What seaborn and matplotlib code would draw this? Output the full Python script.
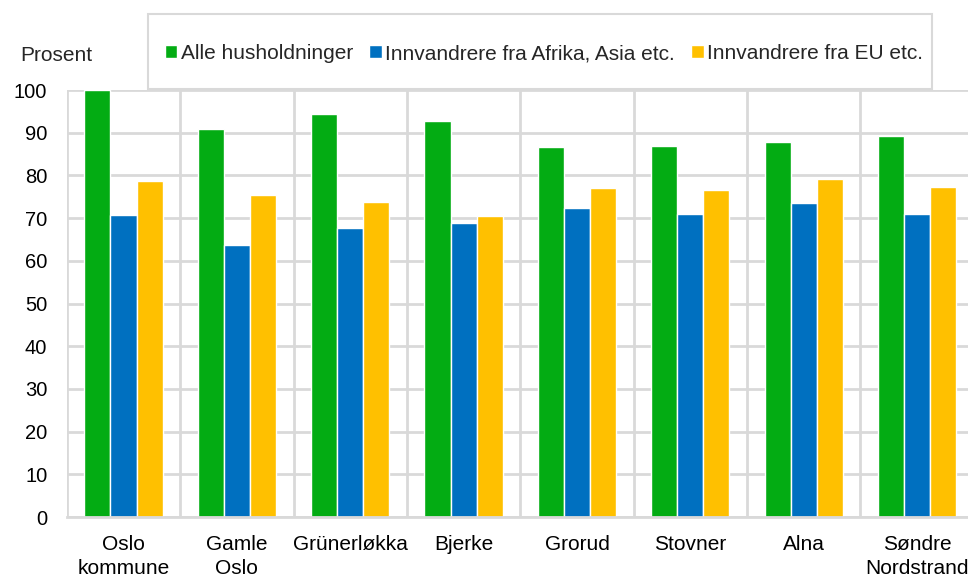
import numpy as np
import pandas as pd
import matplotlib
matplotlib.use("Agg")
import matplotlib.pyplot as plt
from matplotlib.patches import Rectangle
import seaborn as sns

# Data
bydeler = ["Oslo\nkommune", "Gamle\nOslo", "Grünerløkka", "Bjerke", "Grorud",
           "Stovner", "Alna", "Søndre\nNordstrand"]
grupper = ["Alle husholdninger", "Innvandrere fra Afrika, Asia etc.",
           "Innvandrere fra EU etc."]
alle = [100.0, 90.9, 94.4, 92.8, 86.6, 86.8, 87.8, 89.2]
afrika_asia = [70.8, 63.7, 67.7, 68.8, 72.4, 70.9, 73.5, 71.0]
eu = [78.7, 75.4, 73.8, 70.5, 77.0, 76.7, 79.1, 77.3]
farger = ["#03AC13", "#0070C0", "#FFC000"]

df = pd.DataFrame({
    "Bydel": bydeler * 3,
    "Gruppe": [g for g in grupper for _ in bydeler],
    "Prosent": alle + afrika_asia + eu,
})

sns.set_style("white")
plt.rcParams["font.family"] = ["Liberation Sans", "DejaVu Sans"]

fig = plt.figure(figsize=(9.68, 5.76), dpi=100)
ax = fig.add_axes([0.069, 0.1024, 0.937, 0.7413])

sns.barplot(data=df, x="Bydel", y="Prosent", hue="Gruppe", palette=farger,
            saturation=1, width=0.69, edgecolor="white", linewidth=1, ax=ax)

grid_col = "#d9d9d9"
ax.set_xlim(-0.5, len(bydeler) - 0.5)
ax.set_ylim(0, 100)
ax.set_yticks(np.arange(0, 101, 10))
ax.set_xticks(np.arange(-0.5, len(bydeler), 1), minor=True)
ax.set_axisbelow(True)
ax.grid(axis="y", which="major", color=grid_col, linewidth=2)
ax.grid(axis="x", which="minor", color=grid_col, linewidth=2)
ax.grid(axis="x", which="major", visible=False)
for s in ["top", "right", "left"]:
    ax.spines[s].set_visible(False)
ax.spines["bottom"].set_color(grid_col)
ax.spines["bottom"].set_linewidth(2)
ax.tick_params(axis="both", which="both", length=0, labelsize=15, labelcolor="black")
ax.tick_params(axis="y", labelsize=14.5, pad=14)
ax.tick_params(axis="x", pad=13)
ax.set_xlabel("")
ax.set_ylabel("")
for lbl in ax.get_xticklabels():
    lbl.set_linespacing(1.3)

# legend box
fig.patches.append(Rectangle((0.153, 0.845), 0.81, 0.130, transform=fig.transFigure,
                             facecolor="white", edgecolor=grid_col, linewidth=1.5,
                             zorder=5))
handles, labels = ax.get_legend_handles_labels()
ax.get_legend().remove()
fig.legend(handles, labels, loc="center", bbox_to_anchor=(0.562, 0.907), ncol=3,
           frameon=False, fontsize=15, handlelength=0.6, handleheight=0.6,
           handletextpad=0.15, columnspacing=0.8)

fig.text(0.021, 0.903, "Prosent", fontsize=15, ha="left", va="center")

fig.savefig("out.png", dpi=100)
